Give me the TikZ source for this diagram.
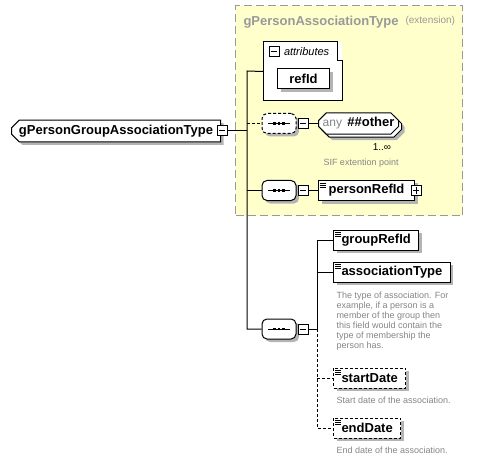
\documentclass[tikz,border=0pt]{standalone}
\usepackage{fontspec}
\setmainfont{Liberation Sans}
\usepackage{tikz}
\usepackage{xcolor}
\usetikzlibrary{positioning,shapes,shadows,calc}

\definecolor{extfill}{HTML}{FFFFCC}
\definecolor{extline}{HTML}{999999}
\definecolor{doctext}{HTML}{858585}
\definecolor{shadowgray}{HTML}{B4B4B4}

\begin{document}
\begin{tikzpicture}[x=0.75pt, y=-0.75pt, line width=0.75pt,
  extbox/.style={
    rectangle, draw=extline, fill=extfill, line width=1pt,
    dash pattern=on 6pt off 3pt, inner sep=0pt
  },
  exttitle/.style={
    inner sep=0pt, text=extline, font=\fontsize{9.75}{11}\selectfont\bfseries
  },
  extnote/.style={
    inner sep=0pt, text=extline, font=\fontsize{7.5}{9}\selectfont
  },
  ctype/.style={
    chamfered rectangle, chamfered rectangle corners={north west,south west},
    chamfered rectangle xsep=2.25pt, draw=black, fill=white,
    minimum width=156.75pt, minimum height=15pt, inner sep=0pt,
    font=\fontsize{9.75}{11}\selectfont\bfseries, drop shadow
  },
  attrbox/.style={
    rectangle, draw=none, fill=white, inner sep=0pt
  },
  attrlabel/.style={
    inner sep=0pt, font=\fontsize{8.25}{10}\selectfont\itshape
  },
  attrelem/.style={
    rectangle, draw=black, fill=white, anchor=west,
    minimum width=39pt, minimum height=15pt, inner sep=0pt,
    font=\fontsize{9.75}{11}\selectfont\bfseries, drop shadow
  },
  elem/.style={
    rectangle, draw=black, fill=white, anchor=west,
    minimum height=15pt, inner xsep=6pt, inner ysep=0pt,
    font=\fontsize{9.75}{11}\selectfont\bfseries, drop shadow,
    path picture={
      \foreach \k in {1.9,3.4,4.9}
        \draw[solid, line width=0.6pt] ([xshift=1.2pt,yshift=-\k pt]path picture bounding box.north west) -- ++(4.5pt,0pt);
    }
  },
  optelem/.style={elem, dash pattern=on 2.25pt off 1.5pt},
  seq/.style={
    rectangle, rounded corners=3.75pt, draw=black, fill=white,
    minimum width=25.5pt, minimum height=15pt, inner sep=0pt, drop shadow
  },
  optseq/.style={seq, dash pattern=on 2.25pt off 1.5pt},
  seqmark/.style={
    line width=0.75pt, solid, color=black
  },
  wild/.style={
    chamfered rectangle, chamfered rectangle xsep=2.25pt, draw=black, fill=white,
    minimum width=60pt, minimum height=14.25pt, inner sep=0pt, anchor=west,
    drop shadow={shadow xshift=4.5pt, shadow yshift=-4.5pt},
    copy shadow={draw=black, fill=white}
  },
  minus/.style={
    rectangle, draw=black, fill=white, minimum size=7.5pt, inner sep=0pt,
    path picture={
      \draw ([xshift=-2.25pt]path picture bounding box.center) -- ([xshift=2.25pt]path picture bounding box.center);
    }
  },
  plus/.style={
    rectangle, draw=black, fill=white, minimum size=7.5pt, inner sep=0pt,
    path picture={
      \draw ([xshift=-2.25pt]path picture bounding box.center) -- ([xshift=2.25pt]path picture bounding box.center);
      \draw ([yshift=-2.25pt]path picture bounding box.center) -- ([yshift=2.25pt]path picture bounding box.center);
    }
  },
  doc/.style={
    inner sep=0pt, text=doctext, align=left, font=\fontsize{6.75}{7.5}\selectfont
  },
  mult/.style={
    inner sep=0pt, font=\fontsize{7.5}{9}\selectfont
  },
  link/.style={
    line width=0.75pt, color=black
  },
  optlink/.style={
    link, dash pattern=on 2.25pt off 1.5pt
  },
  every shadow/.style={
    shadow xshift=2.25pt,
    shadow yshift=-2.25pt,
    fill=shadowgray, opacity=1
  }
]
\useasboundingbox (0,0) rectangle (504,460);

% Extension
\node[extbox, anchor=north west, minimum width=170.25pt, minimum height=157.5pt] (ext) at (235,5) {};
\node[exttitle, anchor=west] (extname) at (243,22) {gPersonAssociationType};
\node[extnote, right=4.5pt of extname, yshift=1pt] (extkind) {(extension)};

% Attributes
\node[attrbox, anchor=north west, minimum width=58.5pt, minimum height=43.5pt] (attrs) at (263,42) {};
\draw (attrs.north west) -- ([xshift=-3.75pt]attrs.north east) |- ([yshift=-14.25pt]attrs.north east)
  -- (attrs.south east) -- (attrs.south west) -- cycle;
\node[minus] (attrstg) at (274,52) {};
\node[attrlabel, right=3pt of attrstg] (attrslbl) {attributes};
\node[attrelem] (refid) at (277,79) {refId};

% Nodes
\node[ctype, anchor=west] (main) at (11,131) {gPersonGroupAssociationType};
\node[minus] (maintg) at ([xshift=0.75pt]main.east) {};
\coordinate (trunk) at (247,71);

\node[optseq] (seqa) at (279,123.5) {};
\node[minus, right=0.75pt of seqa] (seqatg) {};
\node[wild] (anyel) at (318,123.5) {{\fontsize{9}{11}\selectfont\color{doctext}any}\hspace{4pt}{\bfseries\fontsize{9.75}{11}\selectfont \#\#other}};
\node[mult] (anymult) at (382,147) {1..∞};
\node[doc, anchor=north west] (anydoc) at (323,158) {SIF extention point};

\node[seq] (seqb) at (279,190.5) {};
\node[minus, right=0.75pt of seqb] (seqbtg) {};
\node[elem, minimum width=72pt] (personref) at (318,190.5) {personRefId};
\node[plus] (personreftg) at ([xshift=0.75pt]personref.east) {};

\node[seq] (seqc) at (279,329) {};
\node[minus, right=0.75pt of seqc] (seqctg) {};
\coordinate (branch) at (317,329);

% sequence marks
\foreach \s in {seqa,seqb,seqc} {
  \draw[seqmark] ([xshift=-8.25pt]\s.center) -- ([xshift=8.25pt]\s.center);
  \foreach \d in {-3.3,0,3.3}
    \fill[black] ([xshift=\d pt]\s.center) ++(-1.1pt,-1.1pt) rectangle ++(2.2pt,2.2pt);
}

\node[elem] (groupref) at (333,240) {groupRefId};
\node[elem] (assoctype) at (333,272) {associationType};
\node[doc, anchor=north west] (assocdoc) at ([xshift=2.25pt,yshift=-6.75pt]assoctype.south west) {The type of association. For\\
example, if a person is a\\
member of the group then\\
this field would contain the\\
type of membership the\\
person has.};
\node[optelem] (startdate) at (333,378) {startDate};
\node[doc, anchor=north west] (startdoc) at ([xshift=2.25pt,yshift=-6pt]startdate.south west) {Start date of the association.};
\node[optelem] (enddate) at (333,428) {endDate};
\node[doc, anchor=north west] (enddoc) at ([xshift=2.25pt,yshift=-6pt]enddate.south west) {End date of the association.};

% Edges
\draw[link] (maintg.east) -- (maintg.east -| trunk);
\draw[link] (attrs.west) -- (trunk) |- (seqc.west);
\draw[optlink] (seqa.west -| trunk) -- (seqa.west);
\draw[link] (seqb.west -| trunk) -- (seqb.west);
\draw[link] (seqatg.east) -- (anyel.west);
\draw[link] (seqbtg.east) -- (personref.west);
\draw[link] (seqctg.east) -- (branch);
\draw[link] (groupref.west) -| (branch);
\draw[link] (assoctype.west) -- (assoctype.west -| branch);
\draw[optlink] (branch) |- (enddate.west);
\draw[optlink] (startdate.west -| branch) -- (startdate.west);

\end{tikzpicture}
\end{document}
